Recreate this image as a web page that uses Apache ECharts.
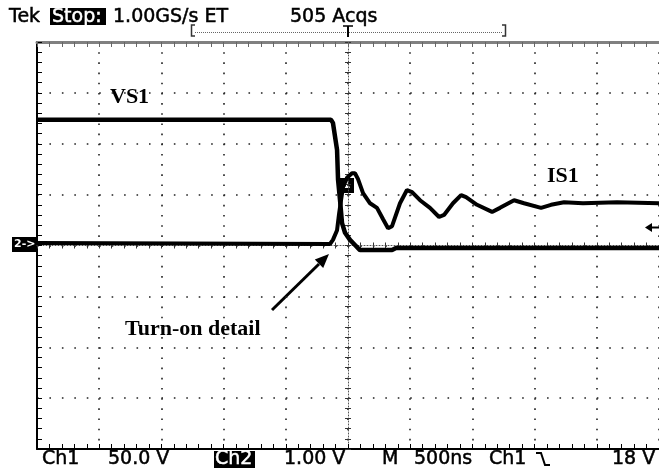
<!DOCTYPE html>
<html><head><meta charset="utf-8">
<script src="https://cdn.jsdelivr.net/npm/echarts@6/dist/echarts.min.js"></script>
<style>html,body{margin:0;padding:0;background:#fff}#c{width:659px;height:468px}</style>
</head><body><div id="c"></div>
<script>
// Time axis (ns), 500 ns/div, trigger at centre
const xMin = -2500, xMax = 2500, xStep = 500;
// Vertical axis in screen divisions
const yMin = -4, yMax = 4, yStep = 1;

// VS1 trace (time ns, divisions)
const vs1Time = [-2500, -137, -121, -88, -80, -64, -48, -24, 16, 56, 96, 354, 386, 2500];
const vs1Div  = [2.47, 2.47, 2.41, 1.88, 1.29, 0.89, 0.44, 0.25, 0.11, 0.01, -0.09, -0.09, -0.05, -0.05];

// IS1 trace (time ns, divisions)
const is1Time = [-2500, -145, -121, -88, -72, -56, -40, -8, 32, 56, 80, 121, 177, 233, 281, 322, 354, 418, 474, 515, 579, 659, 732, 772, 844, 909, 949, 1037, 1158, 1222, 1335, 1415, 1552, 1632, 1737, 1889, 2163, 2500];
const is1Div  = [0.05, 0.03, 0.11, 0.30, 0.62, 0.89, 1.15, 1.33, 1.42, 1.42, 1.31, 1.03, 0.83, 0.74, 0.52, 0.34, 0.38, 0.83, 1.09, 1.05, 0.89, 0.74, 0.56, 0.60, 0.83, 0.99, 0.95, 0.80, 0.66, 0.74, 0.89, 0.83, 0.74, 0.80, 0.85, 0.83, 0.85, 0.83];

// Text
const headerTexts = ['Tek', 'Stop:', '1.00GS/s ET', '505 Acqs'];
const footerTexts = ['Ch1', '50.0 V', 'Ch2', '1.00 V', 'M', '500ns', 'Ch1', '18 V'];
const traceLabels = ['VS1', 'IS1', 'Turn-on detail'];

const zip = (a, b) => a.map((v, i) => [v, b[i]]);

const chart = echarts.init(document.getElementById('c'), null, {renderer: 'canvas'});
const scopeFont = '19px "DejaVu Sans"';
const labelFont = 'bold 22px "Liberation Serif", "Times New Roman", serif';

function xAx(extra) {
  return Object.assign({type: 'value', min: xMin, max: xMax, interval: xStep,
    axisLabel: {show: false}, splitLine: {show: false}}, extra);
}
function yAx(extra) {
  return Object.assign({type: 'value', min: yMin, max: yMax, interval: yStep,
    axisLabel: {show: false}, splitLine: {show: false}}, extra);
}
function scopeText(text, x, y, fill) {
  return {type: 'text', style: {text: text, x: x, y: y, font: scopeFont, fill: fill || '#000',
    stroke: fill || '#000', lineWidth: 0.5, verticalAlign: 'middle'}};
}

const option = {
  animation: false,
  backgroundColor: '#fff',
  grid: {left: 37, top: 42, width: 622, height: 407, containLabel: false, outerBoundsMode: 'none'},
  xAxis: [
    xAx({position: 'bottom',
      axisLine: {onZero: false, lineStyle: {color: '#000', width: 2}},
      axisTick: {inside: true, length: 5, lineStyle: {color: '#000', width: 1}},
      minorTick: {show: true, splitNumber: 5, length: 5, lineStyle: {color: '#000', width: 1}},
      splitLine: {show: true, lineStyle: {color: '#222', width: 1.6, type: [1.6, 8.575]}}}),
    xAx({position: 'top',
      axisLine: {onZero: false, lineStyle: {color: '#808080', width: 3}},
      axisTick: {inside: true, length: 5, lineStyle: {color: '#666', width: 1}},
      minorTick: {show: true, splitNumber: 5, length: 5, lineStyle: {color: '#666', width: 1}}}),
    xAx({position: 'bottom',
      axisLine: {onZero: true, onZeroAxisIndex: 0, lineStyle: {color: '#555', width: 1, type: [1, 2]}},
      axisTick: {inside: true, length: 3, lineStyle: {color: '#333', width: 1}},
      minorTick: {show: true, splitNumber: 5, length: 3, lineStyle: {color: '#333', width: 1}}}),
    xAx({position: 'bottom',
      axisLine: {show: false, onZero: true, onZeroAxisIndex: 0},
      axisTick: {inside: false, length: 3, lineStyle: {color: '#333', width: 1}},
      minorTick: {show: true, splitNumber: 5, length: 3, lineStyle: {color: '#333', width: 1}}})
  ],
  yAxis: [
    yAx({position: 'left',
      axisLine: {onZero: false, lineStyle: {color: '#000', width: 2}},
      axisTick: {inside: true, length: 5, lineStyle: {color: '#000', width: 1}},
      minorTick: {show: true, splitNumber: 5, length: 5, lineStyle: {color: '#000', width: 1}},
      splitLine: {show: true, lineStyle: {color: '#222', width: 1.6, type: [1.6, 10.84]}}}),
    yAx({position: 'left',
      axisLine: {onZero: true, onZeroAxisIndex: 0, lineStyle: {color: '#555', width: 1, type: [1, 2]}},
      axisTick: {inside: true, length: 3, lineStyle: {color: '#333', width: 1}},
      minorTick: {show: true, splitNumber: 5, length: 3, lineStyle: {color: '#333', width: 1}}}),
    yAx({position: 'left',
      axisLine: {show: false, onZero: true, onZeroAxisIndex: 0},
      axisTick: {inside: false, length: 3, lineStyle: {color: '#333', width: 1}},
      minorTick: {show: true, splitNumber: 5, length: 3, lineStyle: {color: '#333', width: 1}}})
  ],
  series: [
    {name: 'VS1', type: 'line', xAxisIndex: 0, yAxisIndex: 0, data: zip(vs1Time, vs1Div),
      symbol: 'none', lineStyle: {color: '#000', width: 4.5}, z: 3},
    {name: 'IS1', type: 'line', xAxisIndex: 0, yAxisIndex: 0, data: zip(is1Time, is1Div),
      symbol: 'none', lineStyle: {color: '#000', width: 4}, z: 3}
  ],
  graphic: [
    // header
    scopeText(headerTexts[0], 9, 17),
    {type: 'rect', shape: {x: 50, y: 8, width: 56, height: 17}, style: {fill: '#000'}},
    scopeText(headerTexts[1], 52, 17, '#fff'),
    scopeText(headerTexts[2], 113, 17),
    scopeText(headerTexts[3], 290, 17),
    // record-window bracket
    {type: 'polyline', shape: {points: [[195, 25], [191.5, 25], [191.5, 36], [195, 36]]}, style: {stroke: '#333', lineWidth: 1.5, fill: null}},
    {type: 'polyline', shape: {points: [[502, 25], [505.5, 25], [505.5, 36], [502, 36]]}, style: {stroke: '#333', lineWidth: 1.5, fill: null}},
    {type: 'line', shape: {x1: 195, y1: 32.5, x2: 502, y2: 32.5}, style: {stroke: '#666', lineWidth: 1, lineDash: [1, 1]}},
    {type: 'line', shape: {x1: 343, y1: 26, x2: 353, y2: 26}, style: {stroke: '#000', lineWidth: 1.5}},
    {type: 'line', shape: {x1: 348, y1: 26, x2: 348, y2: 37}, style: {stroke: '#000', lineWidth: 2}},
    // footer
    scopeText(footerTexts[0], 42, 459),
    scopeText(footerTexts[1], 108, 459),
    {type: 'rect', shape: {x: 214, y: 451, width: 41, height: 17}, style: {fill: '#000'}},
    scopeText(footerTexts[2], 215, 459, '#fff'),
    scopeText(footerTexts[3], 284, 459),
    scopeText(footerTexts[4], 382, 459),
    scopeText(footerTexts[5], 414, 459),
    scopeText(footerTexts[6], 489, 459),
    {type: 'polyline', shape: {points: [[536, 453], [541, 453], [545, 465], [550, 465]]}, style: {stroke: '#000', lineWidth: 2, fill: null}},
    scopeText(footerTexts[7], 612, 459),
    // channel 2 ground marker
    {type: 'rect', shape: {x: 12, y: 237, width: 25, height: 15}, style: {fill: '#000'}},
    {type: 'text', style: {text: '2->', x: 14, y: 244.5, font: 'bold 11px "DejaVu Sans"', fill: '#fff', verticalAlign: 'middle'}},
    // ch1 marker box
    {type: 'rect', shape: {x: 339, y: 178, width: 15, height: 15}, style: {fill: '#000'}},
    {type: 'text', style: {text: '1', x: 346.5, y: 185.5, font: 'bold 11px "DejaVu Sans"', fill: '#fff', align: 'center', verticalAlign: 'middle'}},
    // trigger level arrow
    {type: 'line', shape: {x1: 650, y1: 227.5, x2: 659, y2: 227.5}, style: {stroke: '#000', lineWidth: 2}},
    {type: 'polygon', shape: {points: [[645, 227.5], [652, 223], [652, 232]]}, style: {fill: '#000'}},
    // trace labels
    {type: 'text', style: {text: traceLabels[0], x: 110, y: 97, font: labelFont, fill: '#000', verticalAlign: 'middle'}},
    {type: 'text', style: {text: traceLabels[1], x: 547, y: 176, font: labelFont, fill: '#000', verticalAlign: 'middle'}},
    {type: 'text', style: {text: traceLabels[2], x: 125, y: 329, font: labelFont, fill: '#000', verticalAlign: 'middle'}},
    // annotation arrow
    {type: 'line', shape: {x1: 272, y1: 310, x2: 319, y2: 264}, style: {stroke: '#000', lineWidth: 3}},
    {type: 'polygon', shape: {points: [[329, 254], [323.2, 268.1], [314.8, 259.5]]}, style: {fill: '#000'}}
  ]
};
chart.setOption(option);
</script>
</body></html>
